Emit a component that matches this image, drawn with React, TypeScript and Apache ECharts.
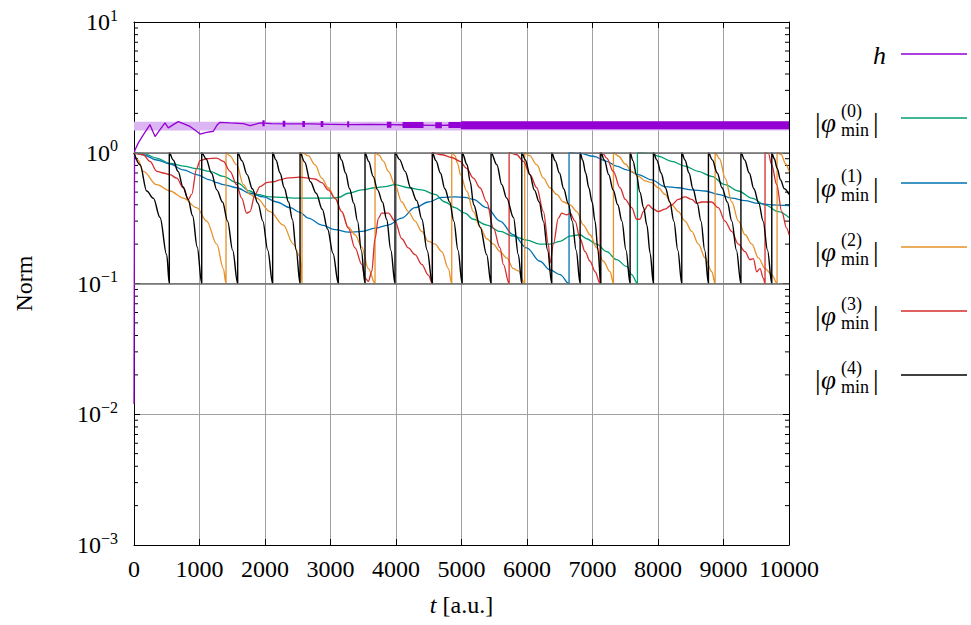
import React, { useEffect, useRef } from "react";
import * as echarts from "echarts";

type P = [number, number | null];

const xTicks = [0, 1000, 2000, 3000, 4000, 5000, 6000, 7000, 8000, 9000, 10000];
const minorTicks = [
  0.002, 0.003, 0.004, 0.005, 0.006, 0.007, 0.008, 0.009,
  0.02, 0.03, 0.04, 0.05, 0.06, 0.07, 0.08, 0.09,
  0.2, 0.3, 0.4, 0.5, 0.6, 0.7, 0.8, 0.9,
  2, 3, 4, 5, 6, 7, 8, 9,
];
const refLevels = [1, 0.1];
const hBand = [1.48, 1.73];

const hLine: P[] = [
  [0, 0.012], [8, 1.0], [15, 1.05], [66, 1.19], [142, 1.37], [244, 1.64], [321, 1.33], [397, 1.5],
  [473, 1.69], [524, 1.55], [600, 1.64], [676, 1.73], [753, 1.67], [855, 1.59], [957, 1.46],
  [1008, 1.39], [1110, 1.43], [1211, 1.46], [1272, 1.64], [1313, 1.71], [1466, 1.69],
  [1669, 1.67], [1771, 1.61], [1924, 1.69], [2100, 1.67], [2400, 1.66], [2700, 1.66],
  [3000, 1.65], [3300, 1.64], [3600, 1.65], [3900, 1.64], [4200, 1.63], [4600, 1.62],
  [5000, 1.63], [5500, 1.62], [6000, 1.62], [6500, 1.63], [7000, 1.62], [7500, 1.62],
  [8000, 1.62], [8500, 1.63], [9000, 1.62], [9500, 1.62], [10000, 1.62],
];
const hBlobs: P[] = [
  [1960, 1.68], [1995, 1.68], [1996, null], [2270, 1.67], [2310, 1.67], [2311, null],
  [2570, 1.66], [2610, 1.66], [2611, null], [2850, 1.66], [2890, 1.66], [2891, null],
  [3255, 1.65], [3285, 1.65], [3286, null], [3860, 1.64], [3930, 1.64], [3931, null],
  [4100, 1.63], [4420, 1.63], [4421, null], [4600, 1.625], [4700, 1.625], [4701, null],
  [4800, 1.63], [4990, 1.63],
];
const hNoise: P[] = [
  [4990, 1.62], [5500, 1.62], [6000, 1.62], [6500, 1.625], [7000, 1.62], [7500, 1.62],
  [8000, 1.62], [8500, 1.625], [9000, 1.62], [9500, 1.62], [10000, 1.62],
];

const phi0: P[] = [
  [0, 1], [142, 0.99], [347, 0.91], [550, 0.83], [753, 0.79], [957, 0.755], [1160, 0.72],
  [1363, 0.66], [1568, 0.59], [1771, 0.51], [1873, 0.48], [2076, 0.46], [2279, 0.455],
  [2484, 0.45], [2763, 0.45], [2966, 0.45], [3119, 0.455], [3272, 0.49], [3476, 0.52],
  [3679, 0.54], [3832, 0.55], [3985, 0.57], [4188, 0.54], [4392, 0.52], [4595, 0.48],
  [4748, 0.42], [4901, 0.38], [5053, 0.345], [5180, 0.31], [5385, 0.28], [5588, 0.25],
  [5791, 0.23], [5995, 0.215], [6198, 0.2], [6351, 0.2], [6504, 0.21], [6657, 0.23],
  [6810, 0.236], [6911, 0.22], [7064, 0.2], [7217, 0.175], [7369, 0.152], [7522, 0.135],
  [7598, 0.117], [7686, 0.1], [7686, 1], [7904, 0.99], [8005, 0.94], [8209, 0.86],
  [8412, 0.79], [8615, 0.72], [8820, 0.66], [9023, 0.57], [9226, 0.51], [9430, 0.45],
  [9634, 0.4], [9837, 0.355], [10000, 0.32],
];

const phi1: P[] = [
  [0, 1], [142, 0.965], [347, 0.88], [550, 0.82], [753, 0.74], [957, 0.68], [1160, 0.62],
  [1263, 0.59], [1363, 0.57], [1568, 0.54], [1771, 0.49], [1974, 0.46], [2179, 0.42],
  [2382, 0.38], [2534, 0.35], [2661, 0.316], [2866, 0.28], [3069, 0.258], [3272, 0.247],
  [3476, 0.25], [3679, 0.265], [3882, 0.28], [4087, 0.316], [4290, 0.38], [4493, 0.42],
  [4698, 0.455], [4901, 0.46], [5053, 0.455], [5180, 0.44], [5385, 0.38], [5588, 0.3],
  [5791, 0.236], [5995, 0.187], [6198, 0.148], [6351, 0.127], [6504, 0.117], [6642, 0.1],
  [6642, 1], [6810, 0.99], [7013, 0.94], [7217, 0.86], [7369, 0.79], [7522, 0.74],
  [7700, 0.68], [7904, 0.62], [8107, 0.55], [8310, 0.54], [8515, 0.52], [8719, 0.51],
  [8920, 0.48], [9125, 0.45], [9329, 0.43], [9532, 0.41], [9736, 0.4], [10000, 0.395],
];

const phi2: P[] = [
  [0, 1], [60, 0.88], [142, 0.72], [347, 0.57], [550, 0.51], [753, 0.45], [957, 0.38],
  [1110, 0.3], [1263, 0.2], [1364, 0.13], [1405, 0.1],
  [1405, 1], [1460, 0.95], [1568, 0.81], [1669, 0.57], [1771, 0.48], [1874, 0.45],
  [2077, 0.355], [2280, 0.28], [2433, 0.2], [2535, 0.16], [2565, 0.1],
  [2565, 1], [2660, 0.95], [2764, 0.81], [2866, 0.64], [2967, 0.54], [3069, 0.45],
  [3171, 0.355], [3272, 0.27], [3375, 0.236], [3477, 0.19], [3578, 0.13], [3680, 0.1],
  [3680, 1], [3740, 0.96], [3810, 0.86], [3883, 0.72], [3985, 0.57], [4088, 0.42],
  [4189, 0.355], [4291, 0.3], [4393, 0.25], [4494, 0.21], [4596, 0.2], [4699, 0.175],
  [4800, 0.13], [4851, 0.1],
  [4851, 1], [4900, 0.95], [4940, 0.83], [4985, 0.68], [5080, 0.51], [5181, 0.355],
  [5283, 0.27], [5385, 0.22], [5487, 0.2], [5588, 0.175], [5690, 0.157], [5792, 0.13],
  [5868, 0.125], [5965, 0.1],
  [5965, 1], [6040, 0.95], [6149, 0.81], [6250, 0.64], [6352, 0.54], [6454, 0.48],
  [6556, 0.42], [6658, 0.4], [6760, 0.355], [6861, 0.28], [6963, 0.236], [7065, 0.187],
  [7166, 0.148], [7268, 0.123], [7320, 0.1],
  [7320, 1], [7400, 0.94], [7500, 0.82], [7600, 0.72], [7701, 0.66], [7803, 0.61],
  [7905, 0.59], [8006, 0.54], [8108, 0.48], [8210, 0.4], [8311, 0.355], [8413, 0.3],
  [8516, 0.25], [8617, 0.2], [8719, 0.157], [8821, 0.123], [8872, 0.1],
  [8872, 1], [8940, 0.9], [9025, 0.64], [9127, 0.42], [9228, 0.3], [9330, 0.236],
  [9432, 0.2], [9533, 0.157], [9635, 0.13], [9737, 0.117], [9818, 0.1],
  [9818, 1], [9880, 0.97], [9950, 0.82], [10000, 0.72],
];

const phi3: P[] = [
  [0, 1], [142, 0.965], [244, 0.86], [347, 0.72], [448, 0.7], [550, 0.68], [652, 0.64],
  [753, 0.54], [830, 0.44], [880, 0.48], [957, 0.76], [1008, 0.87], [1110, 0.9],
  [1263, 0.91], [1364, 0.86], [1466, 0.72], [1568, 0.57], [1644, 0.45], [1720, 0.345],
  [1771, 0.355], [1848, 0.48], [1924, 0.55], [2026, 0.59], [2127, 0.6], [2229, 0.62],
  [2331, 0.64], [2535, 0.65], [2658, 0.64], [2764, 0.63], [2866, 0.59], [2967, 0.52],
  [3069, 0.45], [3171, 0.355], [3272, 0.265], [3375, 0.187], [3477, 0.14], [3527, 0.11],
  [3578, 0.104], [3629, 0.123], [3680, 0.22], [3731, 0.316], [3782, 0.345], [3883, 0.345],
  [3985, 0.3], [4088, 0.22], [4189, 0.187], [4291, 0.166], [4393, 0.14], [4494, 0.116],
  [4555, 0.1],
  [4555, 1], [4699, 0.965], [4851, 0.92], [4978, 0.86], [5080, 0.76], [5181, 0.64],
  [5283, 0.54], [5385, 0.42], [5487, 0.265], [5588, 0.187], [5639, 0.14], [5727, 0.1],
  [5727, 1], [5843, 0.965], [5945, 0.86], [6047, 0.68], [6149, 0.54], [6250, 0.355],
  [6327, 0.2], [6352, 0.143], [6403, 0.2], [6479, 0.316], [6530, 0.345], [6607, 0.335],
  [6658, 0.345], [6734, 0.3], [6811, 0.22], [6887, 0.175], [6963, 0.148], [7040, 0.123],
  [7115, 0.1],
  [7115, 1], [7160, 0.98], [7217, 0.91], [7318, 0.72], [7420, 0.54], [7500, 0.44],
  [7598, 0.38], [7675, 0.31], [7725, 0.31], [7776, 0.355], [7852, 0.4], [7928, 0.37],
  [8005, 0.355], [8107, 0.37], [8209, 0.4], [8310, 0.44], [8412, 0.46], [8515, 0.44],
  [8591, 0.41], [8667, 0.42], [8820, 0.42], [8920, 0.38], [9023, 0.3], [9125, 0.25],
  [9226, 0.2], [9329, 0.175], [9405, 0.152], [9456, 0.155], [9507, 0.123], [9558, 0.13],
  [9608, 0.11], [9634, 0.1],
  [9634, 1], [9685, 0.99], [9736, 0.81], [9812, 0.57], [9889, 0.355], [9965, 0.265],
  [10000, 0.236],
];

const phi4: P[] = [
  [0, 1], [92, 0.81], [194, 0.51], [295, 0.45], [397, 0.32], [499, 0.166], [539, 0.1],
  [539, 1], [598, 0.88], [673, 0.72], [747, 0.55], [826, 0.44], [895, 0.33], [965, 0.19], [1034, 0.1],
  [1034, 1], [1100, 0.9], [1182, 0.7], [1265, 0.52], [1352, 0.42], [1429, 0.3], [1506, 0.18], [1583, 0.1],
  [1583, 1], [1647, 0.87], [1727, 0.68], [1807, 0.53], [1893, 0.41], [1967, 0.3], [2042, 0.18], [2117, 0.1],
  [2117, 1], [2167, 0.88], [2230, 0.7], [2293, 0.54], [2359, 0.42], [2418, 0.31], [2476, 0.18], [2535, 0.1],
  [2535, 1], [2605, 0.85], [2693, 0.6], [2781, 0.49], [2874, 0.37], [2956, 0.26], [3038, 0.17], [3120, 0.1],
  [3120, 1], [3169, 0.88], [3230, 0.7], [3291, 0.53], [3356, 0.41], [3413, 0.3], [3470, 0.18], [3527, 0.1],
  [3527, 1], [3582, 0.86], [3651, 0.66], [3719, 0.52], [3793, 0.42], [3857, 0.31], [3921, 0.18], [3985, 0.1],
  [3985, 1], [4053, 0.89], [4139, 0.72], [4224, 0.54], [4316, 0.43], [4395, 0.31], [4475, 0.18], [4555, 0.1],
  [4555, 1], [4610, 0.87], [4678, 0.7], [4746, 0.53], [4819, 0.42], [4883, 0.3], [4946, 0.18], [5010, 0.1],
  [5010, 1], [5085, 0.81], [5133, 0.6], [5186, 0.4], [5285, 0.27], [5385, 0.166], [5451, 0.1],
  [5451, 1], [5540, 0.81], [5615, 0.57], [5690, 0.45], [5793, 0.32], [5868, 0.166], [5920, 0.1],
  [5920, 1], [5975, 0.88], [6044, 0.68], [6112, 0.52], [6186, 0.42], [6250, 0.3], [6314, 0.18], [6378, 0.1],
  [6378, 1], [6430, 0.87], [6495, 0.7], [6560, 0.53], [6629, 0.41], [6690, 0.3], [6750, 0.18], [6811, 0.1],
  [6811, 1], [6849, 0.88], [6896, 0.7], [6944, 0.54], [6994, 0.42], [7039, 0.3], [7083, 0.18], [7127, 0.1],
  [7127, 1], [7181, 0.88], [7248, 0.68], [7315, 0.52], [7386, 0.4], [7449, 0.3], [7511, 0.18], [7574, 0.1],
  [7574, 1], [7617, 0.87], [7670, 0.68], [7724, 0.5], [7780, 0.38], [7830, 0.28], [7880, 0.17], [7930, 0.1],
  [7930, 1], [7982, 0.88], [8047, 0.7], [8112, 0.54], [8181, 0.42], [8242, 0.3], [8302, 0.18], [8363, 0.1],
  [8363, 1], [8412, 0.88], [8473, 0.7], [8534, 0.53], [8599, 0.41], [8656, 0.3], [8713, 0.18], [8770, 0.1],
  [8770, 1], [8830, 0.88], [8904, 0.7], [8978, 0.54], [9058, 0.42], [9127, 0.3], [9197, 0.18], [9266, 0.1],
  [9266, 1], [9323, 0.88], [9393, 0.7], [9464, 0.53], [9539, 0.41], [9605, 0.3], [9672, 0.18], [9737, 0.1],
  [9737, 1], [9775, 0.9], [9820, 0.76], [9870, 0.62], [9930, 0.53], [10000, 0.48],
];

const legendItems = [
  { sup: "", color: "#9400d3" },
  { sup: "(0)", color: "#009e73" },
  { sup: "(1)", color: "#0072b2" },
  { sup: "(2)", color: "#e6912a" },
  { sup: "(3)", color: "#d62d2d" },
  { sup: "(4)", color: "#000000" },
];
const legendY = [54, 118, 183, 247, 311, 375];

const FONT = "'Liberation Serif', 'DejaVu Serif', serif";

export default function App() {
  const ref = useRef<HTMLDivElement>(null);
  useEffect(() => {
    if (!ref.current) return;
    const chart = echarts.init(ref.current, undefined, { renderer: "svg" });
    const sup = (e: number) => (e < 0 ? "\u2212" + -e : String(e));
    const lineSeries = (name: string, data: P[], color: string, width: number, extra: any = {}) => ({
      name,
      type: "line",
      data,
      showSymbol: false,
      symbol: "none",
      connectNulls: false,
      lineStyle: { color, width },
      itemStyle: { color },
      emphasis: { disabled: true },
      ...extra,
    });
    const smooth = { smooth: 0.35, smoothMonotone: "x" };

    const graphics: any[] = [];
    const txt = (x: number, y: number, text: string, font: string) => ({
      type: "text", x, y,
      style: { text, font, textAlign: "left", textVerticalAlign: "middle", fill: "#000" },
    });
    legendItems.forEach((it, i) => {
      const y = legendY[i];
      graphics.push({
        type: "line",
        shape: { x1: 901, y1: y, x2: 967, y2: y },
        style: { stroke: it.color, lineWidth: 1.3 },
      });
      if (i === 0) {
        graphics.push({
          type: "text", x: 886, y: y + 1,
          style: { text: "h", font: `italic 26px ${FONT}`, textAlign: "right", textVerticalAlign: "middle", fill: "#000" },
        });
      } else {
        graphics.push(
          txt(815, y + 4, "|", `28px ${FONT}`),
          txt(821, y + 5, "φ", `italic 27px ${FONT}`),
          txt(841, y - 7, it.sup, `18px ${FONT}`),
          txt(841, y + 12, "min", `18px ${FONT}`),
          txt(873, y + 4, "|", `28px ${FONT}`),
        );
      }
    });

    const option: any = {
      animation: false,
      backgroundColor: "#ffffff",
      textStyle: { fontFamily: FONT },
      grid: { left: 134, right: 182, top: 22, bottom: 80, containLabel: false, outerBoundsMode: "none" },
      xAxis: [
        {
          type: "value", min: 0, max: 10000, interval: 1000, position: "bottom",
          name: "{i|t} [a.u.]", nameLocation: "middle", nameGap: 48,
          nameTextStyle: { fontSize: 24, color: "#000", fontFamily: FONT, rich: { i: { fontStyle: "italic", fontSize: 24, fontFamily: FONT } } },
          axisLine: { show: true, onZero: false, lineStyle: { color: "#000", width: 1 } },
          axisTick: { show: true, inside: true, length: 6, lineStyle: { color: "#000" } },
          axisLabel: {
            show: true, fontSize: 24, color: "#000", fontFamily: FONT, margin: 12,
            hideOverlap: false, showMinLabel: true, showMaxLabel: true,
            formatter: (v: number) => String(v),
          },
          splitLine: { show: true, lineStyle: { color: "#a0a0a0", width: 1 } },
        },
        {
          type: "value", min: 0, max: 10000, interval: 1000, position: "top",
          axisLine: { show: true, onZero: false, lineStyle: { color: "#000", width: 1 } },
          axisTick: { show: true, inside: true, length: 6, lineStyle: { color: "#000" } },
          axisLabel: { show: false }, splitLine: { show: false },
        },
      ],
      yAxis: [
        {
          type: "log", logBase: 10, min: 0.001, max: 10, position: "left",
          name: "Norm", nameLocation: "middle", nameGap: 98, nameRotate: 90,
          nameTextStyle: { fontSize: 24, color: "#000", fontFamily: FONT },
          axisLine: { show: true, onZero: false, lineStyle: { color: "#000", width: 1 } },
          axisTick: { show: true, inside: true, length: 6, lineStyle: { color: "#000" } },
          axisLabel: {
            show: true, margin: 16, color: "#000",
            formatter: (v: number) => `{b|10}{s|${sup(Math.round(Math.log10(v)))}}`,
            rich: {
              b: { fontSize: 24, lineHeight: 30, fontFamily: FONT, color: "#000" },
              s: { fontSize: 16, lineHeight: 14, verticalAlign: "top", fontFamily: FONT, color: "#000" },
            },
          },
          splitLine: { show: true, lineStyle: { color: "#a0a0a0", width: 1 } },
        },
        {
          type: "log", logBase: 10, min: 0.001, max: 10, position: "right",
          axisLine: { show: true, onZero: false, lineStyle: { color: "#000", width: 1 } },
          axisTick: { show: true, inside: true, length: 6, lineStyle: { color: "#000" } },
          axisLabel: { show: false }, splitLine: { show: false },
        },
      ],
      graphic: graphics,
      series: [
        {
          name: "minor ticks",
          type: "custom",
          silent: true,
          data: minorTicks.map((v) => [0, v]),
          renderItem: (_p: any, api: any) => {
            const v = api.value(1);
            const l = api.coord([0, v]);
            const r = api.coord([10000, v]);
            return {
              type: "group",
              children: [
                { type: "line", shape: { x1: l[0], y1: l[1], x2: l[0] + 4, y2: l[1] }, style: { stroke: "#000", lineWidth: 1 } },
                { type: "line", shape: { x1: r[0] - 4, y1: r[1], x2: r[0], y2: r[1] }, style: { stroke: "#000", lineWidth: 1 } },
              ],
            };
          },
        },
        lineSeries("h", hLine, "#9400d3", 1.3, {
          markArea: {
            silent: true,
            itemStyle: { color: "#dcb6f2" },
            data: [[{ xAxis: 0, yAxis: hBand[0] }, { xAxis: 10000, yAxis: hBand[1] }]],
          },
        }),
        lineSeries("h", hBlobs, "#9400d3", 6),
        lineSeries("h", hNoise, "#9400d3", 8),
        lineSeries("|φ(0)min|", phi0, "#009e73", 1.3, {
          ...smooth,
          markLine: {
            silent: true, symbol: "none", label: { show: false },
            lineStyle: { color: "#6e6e6e", width: 1.5, type: "solid" },
            data: refLevels.map((v) => ({ yAxis: v })),
          },
        }),
        lineSeries("|φ(1)min|", phi1, "#0072b2", 1.3, smooth),
        lineSeries("|φ(2)min|", phi2, "#e6912a", 1.3, smooth),
        lineSeries("|φ(3)min|", phi3, "#d62d2d", 1.3, smooth),
        lineSeries("|φ(4)min|", phi4, "#000000", 1.4, smooth),
      ],
    };
    chart.setOption(option);
    return () => chart.dispose();
  }, []);
  return <div ref={ref} style={{ position: "absolute", left: 0, top: 0, width: 971, height: 625 }} />;
}
